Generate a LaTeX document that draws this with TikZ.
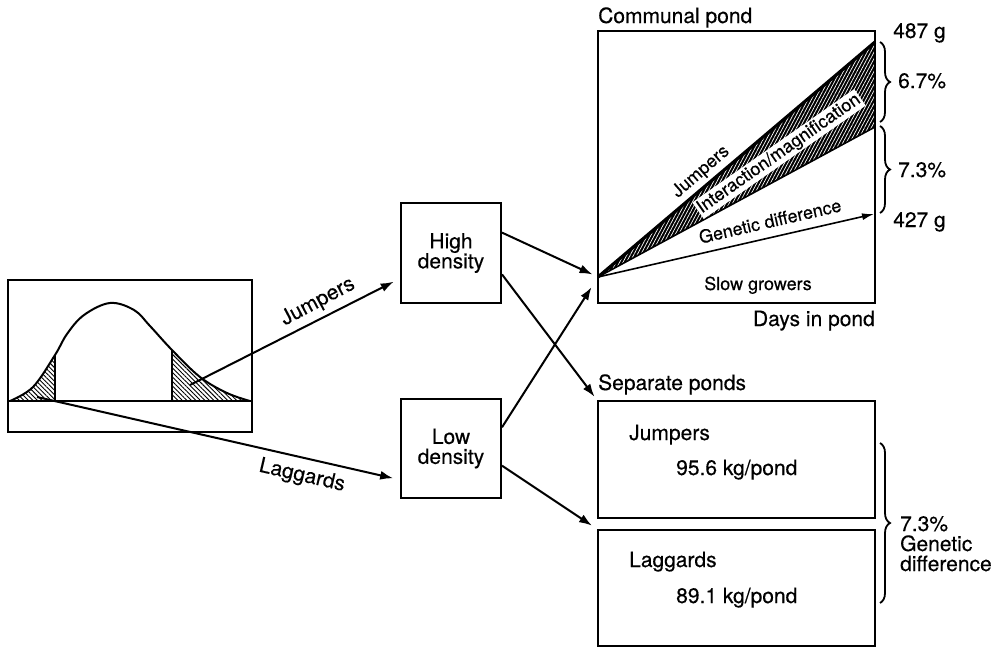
\documentclass[tikz,border=0pt]{standalone}
\usepackage{fontspec}
\setmainfont[FakeBold=0.35,AutoFakeBold=0.35]{TeX Gyre Heros}
\usetikzlibrary{arrows.meta,patterns.meta,decorations.pathreplacing,calc}
\begin{document}
\begin{tikzpicture}[x=1pt,y=-1pt,
  box/.style={draw,line width=2pt,inner sep=0pt},
  arr/.style={line width=2pt,-{Latex[length=13pt,width=9pt]}},
  lbl/.style={font=\fontsize{21}{20}\selectfont\bfseries,inner sep=0pt},
  sml/.style={font=\fontsize{18}{20}\selectfont\bfseries,inner sep=0pt},
  brc/.style={decorate,decoration={brace,amplitude=10pt},line width=1.8pt},
  hatch/.style={pattern={Lines[angle=-45,distance=3.2pt,line width=0.9pt]}},
]
\useasboundingbox (0,0) rectangle (999,648);

% ---------- distribution box ----------
\node[box,minimum width=244pt,minimum height=152pt] (dist) at (130,356) {};
\def\bellpts{(10,401) (33,387) (55,355) (67,334) (84,315) (110,303) (134,310) (150,326) (172,350) (200,377) (227,393) (250,401)}
\begin{scope}
  \clip (10,290) rectangle (55,401);
  \fill[hatch] plot[smooth,tension=0.6] coordinates {\bellpts} -- cycle;
\end{scope}
\begin{scope}
  \clip (172,290) rectangle (252,401);
  \fill[hatch] plot[smooth,tension=0.6] coordinates {\bellpts} -- cycle;
\end{scope}
\draw[line width=2pt] plot[smooth,tension=0.6] coordinates {\bellpts};
\coordinate (cl) at (55,355); \coordinate (cr) at (172,350);
\coordinate (bcl) at (55,401); \coordinate (bcr) at (172,401);
\draw[line width=2pt] (cl) -- (bcl);
\draw[line width=2pt] (cr) -- (bcr);
\coordinate (bl) at (8,401); \coordinate (br) at (252,401);
\draw[line width=2pt] (bl) -- (br);

% ---------- density boxes ----------
\node[box,lbl,align=center,minimum width=100pt,minimum height=100pt] (high) at (451,253) {High\\density};
\node[box,lbl,align=center,minimum width=100pt,minimum height=99pt] (low) at (451,448.5) {Low\\density};

\coordinate (js) at (190,385);
\coordinate (ls) at (37,397);
\draw[arr,shorten >=7pt] (js) -- ($(high.south west)!0.25!(high.north west)$);
\draw[arr,shorten >=7pt] (ls) -- ($(low.south west)!0.19!(low.north west)$);
\node[lbl,rotate=28] (jl) at (318,302) {Jumpers};
\node[lbl,rotate=-13] (ll) at (302,476) {Laggards};

% ---------- communal pond ----------
\coordinate (o) at (598,277);
\coordinate (t) at (875,42);
\coordinate (m) at (875,127);
\coordinate (g) at (874,214);
\fill[black] (o) -- (t) -- (m) -- cycle;
\fill[pattern={Lines[angle=62,distance=3pt,line width=0.7pt]},pattern color=white] (o) -- (t) -- (m) -- cycle;
\draw[line width=3.2pt] (o) -- (t);
\draw[line width=1.6pt] (o) -- (m);
\node[sml,fill=white,rotate=35,inner sep=1.5pt] (inter) at (779,154) {Interaction/magnification};
\draw[line width=1.6pt,-{Latex[length=12pt,width=7pt]}] (o) -- (g);
\node[box,minimum width=277pt,minimum height=272pt] (comm) at (736.5,167) {};

\node[sml,rotate=41] (fj) at (701,172) {Jumpers};
\node[sml,rotate=13] (fg) at (770,221) {Genetic difference};
\node[sml,anchor=base] (sg) at (758,290) {Slow growers};
\node[lbl,anchor=base west] (ct) at (598,23) {Communal pond};
\node[lbl,anchor=base east] (dp) at (875,326) {Days in pond};

\draw[brc] (880,42) -- (880,122);
\draw[brc] (880,126) -- (880,213);
\node[lbl,anchor=base west] (w1) at (893,38) {487 g};
\node[lbl,anchor=base west] (p1) at (898,88) {6.7\%};
\node[lbl,anchor=base west] (p2) at (898,177) {7.3\%};
\node[lbl,anchor=base west] (w2) at (893,227) {427 g};

% ---------- separate ponds ----------
\node[lbl,anchor=base west] (st) at (598,390) {Separate ponds};
\node[box,minimum width=277pt,minimum height=117pt] (sa) at (736.5,459.5) {};
\node[box,minimum width=277pt,minimum height=116pt] (sb) at (736.5,588) {};
\node[lbl,anchor=base west] (saj) at (629,440) {Jumpers};
\node[lbl,anchor=base west] (sak) at (676,475) {95.6 kg/pond};
\node[lbl,anchor=base west] (sbl) at (629,567) {Laggards};
\node[lbl,anchor=base west] (sbk) at (676,603) {89.1 kg/pond};
\draw[brc] (880,443) -- (880,603);
\node[lbl,anchor=base west] (gd) at (900,531) {7.3\%};
\node[lbl,anchor=base west] (gd2) at (900,551) {Genetic};
\node[lbl,anchor=base west] (gd3) at (900,571) {difference};

% ---------- density arrows ----------
\draw[arr,shorten >=6pt] ($(high.north east)!0.3!(high.south east)$) -- (o);
\draw[arr,shorten >=4pt] ($(high.north east)!0.71!(high.south east)$) -- (sa.north west);
\draw[arr,shorten >=12pt] ($(low.north east)!0.29!(low.south east)$) -- (o);
\draw[arr,shorten >=6pt] ($(low.north east)!0.67!(low.south east)$) -- (sb.north west);
\end{tikzpicture}
\end{document}
